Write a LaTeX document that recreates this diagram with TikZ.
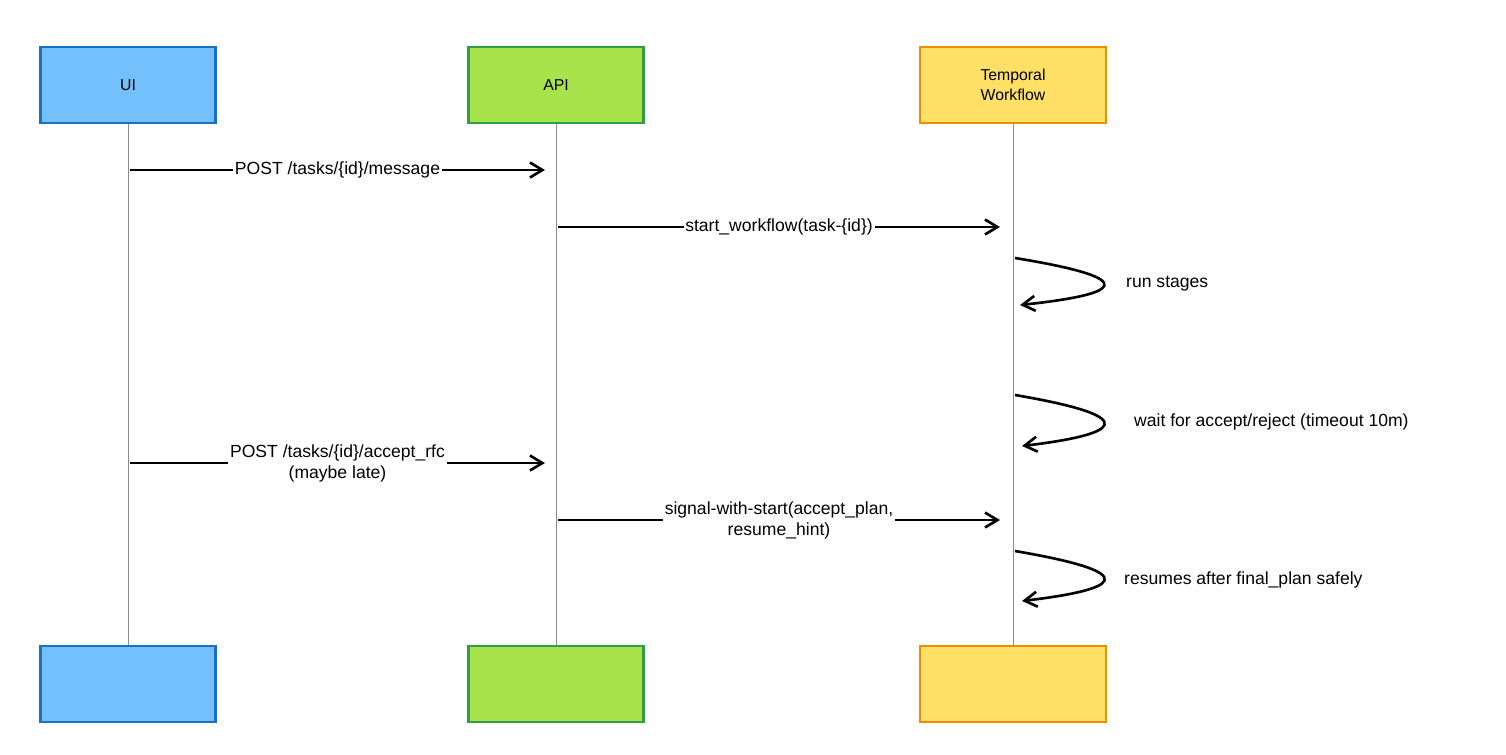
\documentclass[tikz,border=0pt]{standalone}
\usepackage{fontspec}
\setmainfont{Liberation Sans}
\usetikzlibrary{arrows.meta}
\definecolor{uifill}{HTML}{74C0FC}
\definecolor{uidraw}{HTML}{1971C2}
\definecolor{apifill}{HTML}{A9E34B}
\definecolor{apidraw}{HTML}{2F9E44}
\definecolor{tmpfill}{HTML}{FFE066}
\definecolor{tmpdraw}{HTML}{F08C00}
\tikzset{>={Straight Barb[width=3mm,length=2.5mm]}}

\begin{document}
\begin{tikzpicture}[x=0.02cm, y=-0.02cm,
    actor/.style={draw, line width=1.2pt, minimum width=3.5cm, minimum height=1.52cm, align=center, font=\small},
    life/.style={draw=black!45, line width=0.4pt},
    msg/.style={->, line width=1.5pt},
    msgtext/.style={fill=white, inner sep=1pt, align=center},
    looptext/.style={anchor=west}]

    \useasboundingbox (0,0) rectangle (1506,754);

    %Nodes
    \node[actor, fill=uifill, draw=uidraw](ui) at (128,85){UI};
    \node[actor, fill=apifill, draw=apidraw](api) at (556,85){API};
    \node[actor, fill=tmpfill, draw=tmpdraw, minimum width=3.72cm](tmp) at (1013,85){Temporal\\Workflow};
    \node[actor, fill=uifill, draw=uidraw](uiend) at (128,684){};
    \node[actor, fill=apifill, draw=apidraw](apiend) at (556,684){};
    \node[actor, fill=tmpfill, draw=tmpdraw, minimum width=3.72cm](tmpend) at (1013,684){};

    %Lifelines
    \draw[life] (ui.south) -- (uiend.north);
    \draw[life] (api.south) -- (apiend.north);
    \draw[life] (tmp.south) -- (tmpend.north);

    %Messages
    \draw[msg] (130,170) -- node[msgtext]{POST /tasks/\{id\}/message} (545,170);
    \draw[msg] (558,227) -- node[msgtext]{start\_workflow(task-\{id\})} (1000,227);
    \draw[msg] (130,463) -- node[msgtext]{POST /tasks/\{id\}/accept\_rfc\\(maybe late)} (545,463);
    \draw[msg] (558,520) -- node[msgtext]{signal-with-start(accept\_plan,\\resume\_hint)} (1000,520);

    %Self loops
    \draw[msg] (1015,258) .. controls (1150,280) and (1115,295) .. (1020,305);
    \node[looptext](l1) at (1120,284){run stages};
    \draw[msg] (1015,395) .. controls (1150,418) and (1115,435) .. (1022,446);
    \node[looptext](l2) at (1128,422){wait for accept/reject (timeout 10m)};
    \draw[msg] (1015,551) .. controls (1150,574) and (1115,590) .. (1022,601);
    \node[looptext](l3) at (1118,580){resumes after final\_plan safely};

\end{tikzpicture}
\end{document}
